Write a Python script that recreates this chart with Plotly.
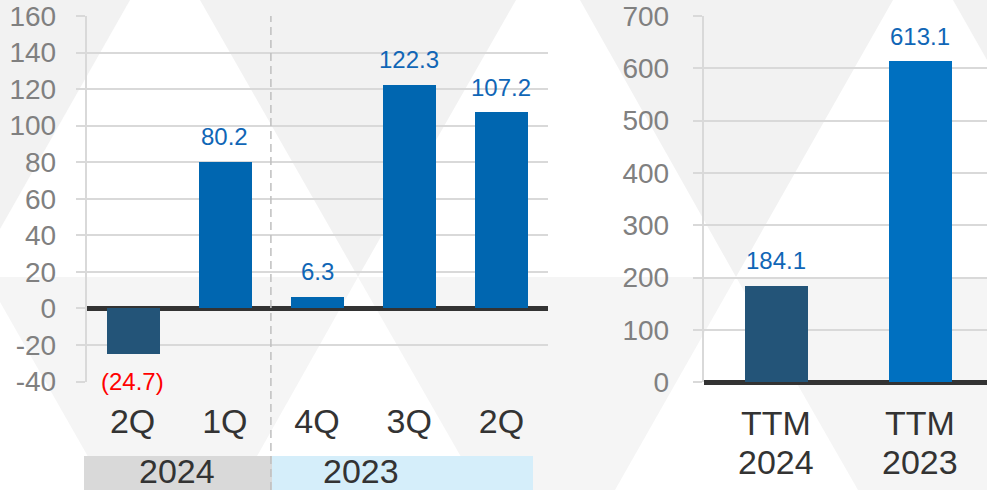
import plotly.graph_objects as go

# ---- data -------------------------------------------------------------
quarter_labels = ["2Q", "1Q", "4Q", "3Q", "2Q"]
quarter_years = ["2024", "2024", "2023", "2023", "2023"]
quarter_values = [-24.7, 80.2, 6.3, 122.3, 107.2]
quarter_colors = ["#235478", "#0066B0", "#0066B0", "#0066B0", "#0066B0"]

ttm_labels = ["TTM", "TTM"]
ttm_years = ["2024", "2023"]
ttm_values = [184.1, 613.1]
ttm_colors = ["#235478", "#0070C0"]

year_bands = ["2024", "2023"]

left_ticks = [-40, -20, 0, 20, 40, 60, 80, 100, 120, 140, 160]
right_ticks = [0, 100, 200, 300, 400, 500, 600, 700]

# ---- helpers -----------------------------------------------------------
W, H = 987, 490
FONT = "Arial, 'Liberation Sans', sans-serif"
GRID = "#d9d9d9"
TICK_GRAY = "#808080"
DARK = "#333333"
LABEL_BLUE = "#1066B6"


def px(x):
    return x / W


def py(y):
    return 1 - y / H


def poly(points, color):
    path = "M " + " L ".join(f"{px(x):.5f},{py(y):.5f}" for x, y in points) + " Z"
    return dict(type="path", xref="paper", yref="paper", path=path,
                fillcolor=color, line=dict(width=0), layer="below")


def fmt(v):
    return f"({abs(v):.1f})" if v < 0 else f"{v:.1f}"


fig = go.Figure()

q_x = list(range(len(quarter_values)))
t_x = list(range(len(ttm_values)))

fig.add_trace(go.Bar(x=q_x, y=quarter_values, marker_color=quarter_colors,
                     marker_line_width=0,
                     width=0.575, xaxis="x", yaxis="y", hoverinfo="skip"))
fig.add_trace(go.Bar(x=t_x, y=ttm_values, marker_color=ttm_colors,
                     marker_line_width=0,
                     width=0.436, xaxis="x2", yaxis="y2", hoverinfo="skip"))

annotations = []
for xi, v in zip(q_x, quarter_values):
    annotations.append(dict(
        x=xi, y=v, xref="x", yref="y", text=fmt(v), showarrow=False,
        xanchor="center", yanchor="middle", yshift=25 if v >= 0 else -28,
        font=dict(family=FONT, size=24, color=LABEL_BLUE if v >= 0 else "#FF0000")))
for xi, v in zip(t_x, ttm_values):
    annotations.append(dict(
        x=xi, y=v, xref="x2", yref="y2", text=fmt(v), showarrow=False,
        xanchor="center", yanchor="middle", yshift=25,
        font=dict(family=FONT, size=24, color=LABEL_BLUE)))
# two-line TTM category labels
for xi, lab, yr in zip(t_x, ttm_labels, ttm_years):
    annotations.append(dict(x=xi, y=py(423), xref="x2", yref="paper", text=lab,
                            showarrow=False, xanchor="center", yanchor="middle",
                            font=dict(family=FONT, size=34, color=DARK)))
    annotations.append(dict(x=xi, y=py(462), xref="x2", yref="paper", text=yr,
                            showarrow=False, xanchor="center", yanchor="middle",
                            font=dict(family=FONT, size=34, color=DARK)))
# year band captions
for xc, yr in zip([177, 361], year_bands):
    annotations.append(dict(x=px(xc), y=py(471), xref="paper", yref="paper",
                            text=yr, showarrow=False, xanchor="center", yanchor="middle",
                            font=dict(family=FONT, size=34, color=DARK)))

shapes = []
# watermark lattice in the background
top_gray = "#f2f2f2"
bot_gray = "#f5f5f5"
shapes += [
    poly([(0, 0), (130, 0), (0, 229)], top_gray),
    poly([(200, 0), (516, 0), (358, 277)], top_gray),
    poly([(580, 0), (893, 0), (736, 277)], top_gray),
    poly([(953, 0), (987, 0), (987, 60)], top_gray),
    poly([(0, 277), (358, 277), (238, 490), (107, 490), (0, 302)], bot_gray),
    poly([(358, 277), (736, 277), (615, 490), (480, 490)], bot_gray),
    poly([(736, 277), (987, 277), (987, 490), (858, 490)], bot_gray),
]
# year bands under the quarter axis
shapes.append(dict(type="rect", xref="paper", yref="paper",
                   x0=px(84), x1=px(272), y0=0, y1=py(456),
                   fillcolor="#d9d9d9", line=dict(width=0), layer="below"))
shapes.append(dict(type="rect", xref="paper", yref="paper",
                   x0=px(272), x1=px(533), y0=0, y1=py(456),
                   fillcolor="#d5eefa", line=dict(width=0), layer="below"))
# dashed divider between 2024 and 2023 quarters
shapes.append(dict(type="line", xref="x", yref="paper", x0=1.5, x1=1.5,
                   y0=0, y1=py(16), line=dict(color="#bfbfbf", width=1.5, dash="8px,5px"),
                   layer="above"))

ytick_common = dict(
    ticks="outside", ticklen=9, tickcolor=GRID, tickwidth=1.5,
    tickfont=dict(family=FONT, size=28, color=TICK_GRAY),
    showgrid=True, gridcolor=GRID, gridwidth=1.5,
    showline=True, linecolor=GRID, linewidth=1.5,
    zeroline=True, zerolinecolor=DARK, zerolinewidth=5,
    automargin=False, fixedrange=True,
)

fig.update_layout(
    width=W, height=H, autosize=False,
    margin=dict(l=0, r=0, t=0, b=0, pad=0),
    paper_bgcolor="white", plot_bgcolor="rgba(0,0,0,0)",
    showlegend=False, bargap=0,
    font=dict(family=FONT),
    xaxis=dict(domain=[px(86.5), px(547.5)], range=[-0.5, 4.5],
               tickvals=q_x, ticktext=quarter_labels, ticks="",
               tickfont=dict(family=FONT, size=34, color=DARK),
               ticklabelstandoff=16, showgrid=False, showline=False,
               zeroline=False, automargin=False, fixedrange=True),
    yaxis=dict(domain=[py(381.5), py(16)], range=[-40, 160],
               tickvals=left_ticks, ticktext=[str(v) for v in left_ticks],
               ticklabelstandoff=14, **ytick_common),
    xaxis2=dict(domain=[px(703.5), 1.0], range=[-0.5, 1.462], anchor="y2",
                tickvals=t_x, showticklabels=False, ticks="",
                showgrid=False, showline=False, zeroline=False,
                automargin=False, fixedrange=True),
    yaxis2=dict(domain=[py(382.3), py(16)], range=[0, 700], anchor="x2",
                tickvals=right_ticks, ticktext=[str(v) for v in right_ticks],
                ticklabelstandoff=18, **ytick_common),
    shapes=shapes,
    annotations=annotations,
)

fig.write_html("out.html")
